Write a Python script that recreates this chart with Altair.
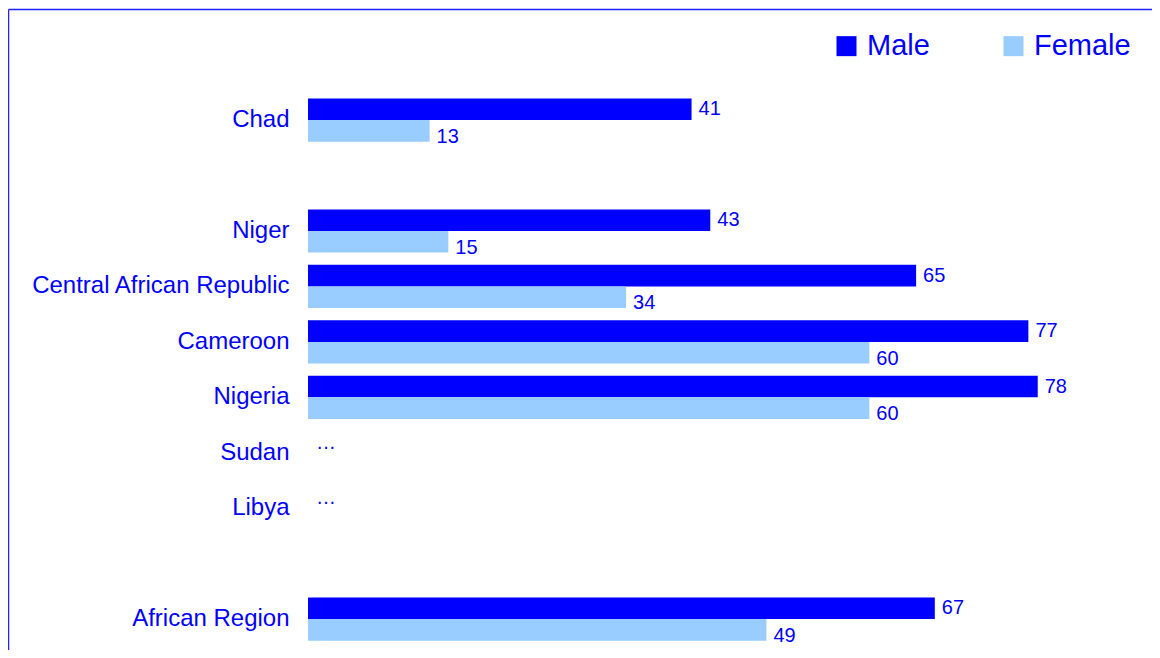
import altair as alt
import pandas as pd

# ---- data ----
countries = ["Chad", " ", "Niger", "Central African Republic", "Cameroon",
             "Nigeria", "Sudan", "Libya", "  ", "African Region"]
male = [41, None, 43, 65, 77, 78, None, None, None, 67]
female = [13, None, 15, 34, 60, 60, None, None, None, 49]
series = ["Male", "Female"]
missing_label = "\u2026"

BLUE = "#0000FF"
LIGHT = "#99CCFF"
FONT = "Liberation Sans"

rows = []
for c, m, f in zip(countries, male, female):
    if c.strip() == "":
        continue
    for s, v in zip(series, (m, f)):
        rows.append({
            "country": c,
            "sex": s,
            "value": v,
            "pos": v if v is not None else 0,
            "missing": v is None,
            "label": str(v) if v is not None else (missing_label if s == "Male" else ""),
        })
df = pd.DataFrame(rows)

yenc = alt.Y("country:N",
             scale=alt.Scale(domain=countries, paddingInner=0.22, paddingOuter=0.11),
             sort=countries,
             axis=alt.Axis(title=None, domain=False, ticks=False, grid=False,
                           labelFontSize=24, labelColor=BLUE, labelFont=FONT,
                           labelPadding=19, labelLimit=400))
yoff = alt.YOffset("sex:N", scale=alt.Scale(domain=series), sort=series)
xscale = alt.Scale(domain=[0, 90])
xenc = alt.X("pos:Q", scale=xscale, axis=None)

base = alt.Chart(df)

bars = base.mark_bar().encode(
    x=alt.X("value:Q", scale=xscale, axis=None),
    y=yenc,
    yOffset=yoff,
    color=alt.Color("sex:N",
                    scale=alt.Scale(domain=series, range=[BLUE, LIGHT]),
                    legend=alt.Legend(title=None, orient="none", direction="horizontal",
                                      legendX=524, legendY=-61,
                                      symbolType="square", symbolSize=400,
                                      symbolStrokeWidth=0,
                                      labelFontSize=29, labelColor=BLUE, labelFont=FONT,
                                      labelOffset=6, columnPadding=69, padding=0)),
)

text_m = base.transform_filter("datum.sex == 'Male' && !datum.missing").mark_text(
    align="left", baseline="middle", dx=7, dy=0, fontSize=20, color=BLUE, font=FONT
).encode(x=xenc, y=yenc, yOffset=yoff, text="label:N")

text_f = base.transform_filter("datum.sex == 'Female' && !datum.missing").mark_text(
    align="left", baseline="middle", dx=7, dy=6, fontSize=20, color=BLUE, font=FONT
).encode(x=xenc, y=yenc, yOffset=yoff, text="label:N")

text_missing = base.transform_filter("datum.sex == 'Male' && datum.missing").mark_text(
    align="left", baseline="middle", dx=8, dy=1, fontSize=20, color=BLUE, font=FONT
).encode(x=xenc, y=yenc, yOffset=yoff, text="label:N")

one = alt.Data(values=[{"a": 1}])
rule_top = alt.Chart(one).mark_rule(color="#2222FF", strokeWidth=1.5).encode(
    x=alt.value(-299.5), x2=alt.value(850), y=alt.value(-82.9))
rule_left = alt.Chart(one).mark_rule(color="#2222FF", strokeWidth=1.5).encode(
    x=alt.value(-299.5), y=alt.value(-82.9), y2=alt.value(562))

chart = alt.layer(bars, text_m, text_f, text_missing, rule_top, rule_left).properties(
    width=842, height=554.4,
    padding={"left": 300, "top": 84.4, "right": 2, "bottom": 3},
    autosize=alt.AutoSizeParams(type="none"),
    background="white",
).configure_view(stroke="transparent")

chart.save("out.html", embed_options={"renderer": "svg", "actions": False})
